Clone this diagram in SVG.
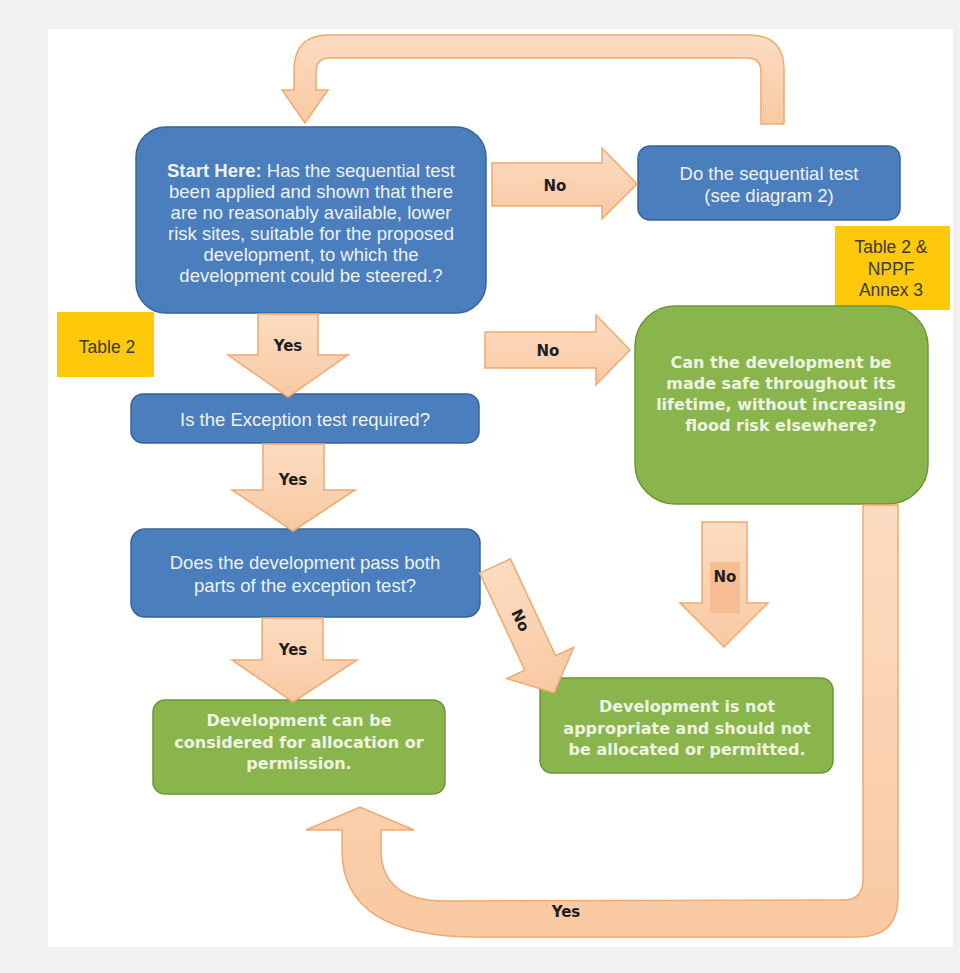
<svg xmlns="http://www.w3.org/2000/svg" width="960" height="973" viewBox="0 0 960 973">
<defs>
<linearGradient id="pv" x1="0" y1="0" x2="0" y2="1">
<stop offset="0" stop-color="#fcdcc2"/>
<stop offset="1" stop-color="#f9c9a2"/>
</linearGradient>
<style>
.arrow{fill:url(#pv);stroke:#f0a96f;stroke-width:1.5;stroke-linejoin:miter}
.blue{fill:#4a7ebd;stroke:#37649b;stroke-width:1.5}
.green{fill:#8ab44c;stroke:#6d9537;stroke-width:1.5}
.yellow{fill:#fdc90a}
.bt{font-family:"Liberation Sans",Arial,sans-serif;font-size:18.5px;fill:#eef2f8;text-anchor:middle}
.gt{font-family:"DejaVu Sans",Verdana,sans-serif;font-weight:bold;font-size:16px;fill:#eef4e2;text-anchor:middle}
.yt{font-family:"Liberation Sans",Arial,sans-serif;font-size:17.5px;fill:#3a3a3a;text-anchor:middle}
.lbl{font-family:"DejaVu Sans",Verdana,sans-serif;font-weight:bold;font-size:15px;fill:#1e1e1e;text-anchor:middle}
</style>
</defs>
<rect x="0" y="0" width="960" height="973" fill="#f1f1ef"/>
<rect x="48" y="29" width="905" height="918" fill="#ffffff"/>

<g id="table2">
<rect class="yellow" x="57" y="312" width="97" height="65"/>
<text class="yt" x="107" y="353">Table 2</text>
</g>
<g id="table2-nppf">
<rect class="yellow" x="835" y="226" width="115" height="84"/>
<text class="yt" x="891" y="253">Table 2 &amp;</text>
<text class="yt" x="891" y="275">NPPF</text>
<text class="yt" x="891" y="296">Annex 3</text>
</g>

<g id="start">
<rect class="blue" x="136" y="127" width="350" height="186" rx="30" ry="30"/>
<text class="bt" x="311" y="177"><tspan font-weight="bold">Start Here:</tspan> Has the sequential test</text>
<text class="bt" x="311" y="198">been applied and shown that there</text>
<text class="bt" x="311" y="219">are no reasonably available, lower</text>
<text class="bt" x="311" y="240">risk sites, suitable for the proposed</text>
<text class="bt" x="311" y="261">development, to which the</text>
<text class="bt" x="311" y="282">development could be steered.?</text>
</g>
<g id="sequential">
<rect class="blue" x="638" y="146" width="262" height="74" rx="12" ry="12"/>
<text class="bt" x="769" y="180">Do the sequential test</text>
<text class="bt" x="769" y="202">(see diagram 2)</text>
</g>
<g id="exception-required">
<rect class="blue" x="131" y="394" width="348" height="49" rx="12" ry="12"/>
<text class="bt" x="305" y="426">Is the Exception test required?</text>
</g>
<g id="exception-pass">
<rect class="blue" x="131" y="529" width="349" height="88" rx="14" ry="14"/>
<text class="bt" x="305" y="569">Does the development pass both</text>
<text class="bt" x="305" y="592">parts of the exception test?</text>
</g>
<g id="safe">
<rect class="green" x="635" y="306" width="293" height="198" rx="40" ry="40"/>
<text class="gt" x="781" y="368">Can the development be</text>
<text class="gt" x="781" y="389">made safe throughout its</text>
<text class="gt" x="781" y="410">lifetime, without increasing</text>
<text class="gt" x="781" y="431">flood risk elsewhere?</text>
</g>
<g id="not-appropriate">
<rect class="green" x="540" y="678" width="293" height="95" rx="12" ry="12"/>
<text class="gt" x="687" y="712">Development is not</text>
<text class="gt" x="687" y="733.5">appropriate and should not</text>
<text class="gt" x="687" y="755">be allocated or permitted.</text>
</g>
<g id="considered">
<rect class="green" x="153" y="700" width="292" height="94" rx="12" ry="12"/>
<text class="gt" x="299" y="726">Development can be</text>
<text class="gt" x="299" y="748">considered for allocation or</text>
<text class="gt" x="299" y="769">permission.</text>
</g>

<g id="connectors">
<path class="arrow" d="M761 124 L761 72 Q761 58 747 58 L330 58 Q316 58 316 72 L316 90 L328 90 L305 123 L282 90 L294 90 L294 70 Q294 35 329 35 L749 35 Q784 35 784 70 L784 124 Z"/>
<path class="arrow" d="M492 163 L602 163 L602 148 L637 184 L602 219 L602 206 L492 206 Z"/>
<text class="lbl" x="555" y="191">No</text>
<path class="arrow" d="M485 332 L596 332 L596 315 L630 350 L596 385 L596 368 L485 368 Z"/>
<text class="lbl" x="548" y="356">No</text>
<path class="arrow" d="M258 314 L318 314 L318 355 L348 355 L288 397 L228 355 L258 355 Z"/>
<text class="lbl" x="288" y="351">Yes</text>
<path class="arrow" d="M263 444 L324 444 L324 490 L355 490 L293 531 L232 490 L263 490 Z"/>
<text class="lbl" x="293" y="485">Yes</text>
<path class="arrow" d="M262 618 L323 618 L323 660 L357 660 L293 702 L232 660 L262 660 Z"/>
<text class="lbl" x="293" y="655">Yes</text>
<path class="arrow" d="M702 522 L747 522 L747 603 L768 603 L724 647 L680 603 L702 603 Z"/>
<rect x="710" y="562" width="30" height="51" fill="#f7bd92"/>
<text class="lbl" x="725" y="582">No</text>
<g transform="translate(495 566) rotate(-25)">
<path class="arrow" d="M-17 0 L17 0 L17 107 L37 107 L0 140 L-37 107 L-17 107 Z"/>
<text class="lbl" transform="rotate(90)" x="60" y="5">No</text>
</g>
<path class="arrow" d="M863 505 L863 880 Q863 900 843 900 L445 901 C405 901 381 885 381 850 L381 830 L414 830 L360 807 L306 830 L342 830 L342 850 C342 910 390 937 477 937 L858 937 Q898 937 898 897 L898 505 Z"/>
<text class="lbl" x="566" y="917">Yes</text>
</g>
</svg>
